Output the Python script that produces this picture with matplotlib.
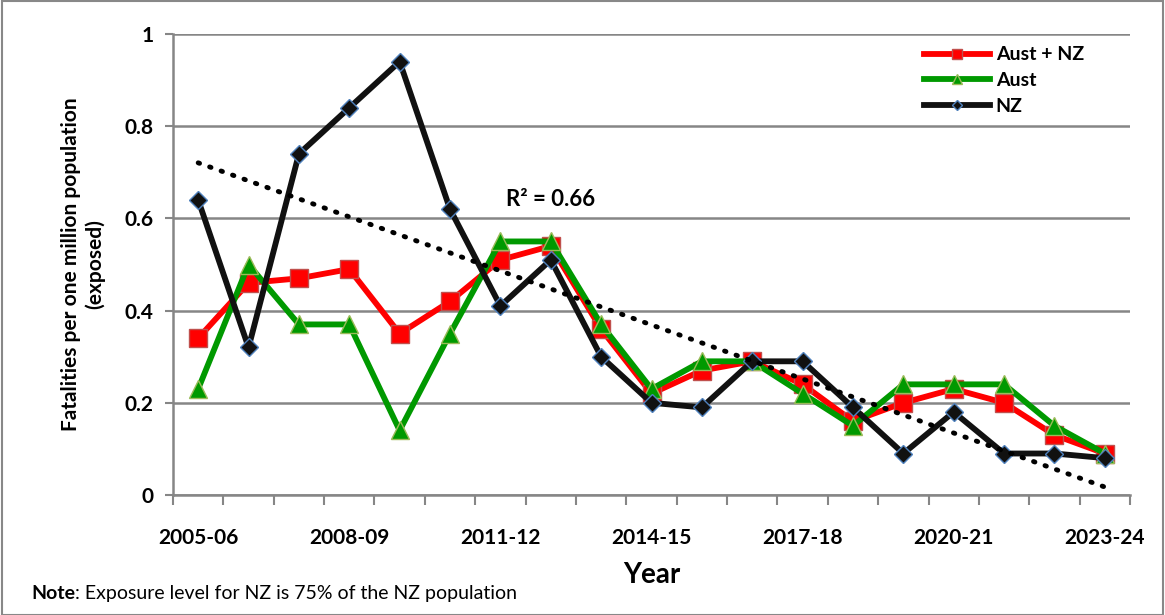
import matplotlib.pyplot as plt
import numpy as np
from matplotlib.patches import Rectangle

years = ['2005-06', '2006-07', '2007-08', '2008-09', '2009-10', '2010-11', '2011-12',
         '2012-13', '2013-14', '2014-15', '2015-16', '2016-17', '2017-18', '2018-19',
         '2019-20', '2020-21', '2021-22', '2022-23', '2023-24']
aust_nz = [0.34, 0.46, 0.47, 0.49, 0.35, 0.42, 0.51, 0.54, 0.36, 0.22, 0.27, 0.29,
           0.24, 0.16, 0.20, 0.23, 0.20, 0.13, 0.09]
aust = [0.23, 0.50, 0.37, 0.37, 0.14, 0.35, 0.55, 0.55, 0.37, 0.23, 0.29, 0.29,
        0.22, 0.15, 0.24, 0.24, 0.24, 0.15, 0.09]
nz = [0.64, 0.32, 0.74, 0.84, 0.94, 0.62, 0.41, 0.51, 0.30, 0.20, 0.19, 0.29,
      0.29, 0.19, 0.09, 0.18, 0.09, 0.09, 0.08]

plt.rcParams['font.family'] = ['Lato', 'DejaVu Sans']

fig = plt.figure(figsize=(11.65, 6.15), dpi=100)
ax = fig.add_axes([173 / 1165, 1 - 495 / 615, (1130 - 173) / 1165, (495 - 34) / 615])

x = np.arange(len(years))
ax.plot(x, aust_nz, '-s', color='#ff0000', lw=4.2, ms=13, mfc='#ff0000', mec='#c0504d',
        mew=1, label='Aust + NZ', zorder=3)
ax.plot(x, aust, '-^', color='#009900', lw=4.2, ms=13, mfc='#009900', mec='#9bbb59',
        mew=1, label='Aust', zorder=4)
ax.plot(x, nz, '-D', color='#111111', lw=4.2, ms=9, mfc='#111111', mec='#4f81bd',
        mew=1, label='NZ', zorder=5)

# linear trend line for NZ
k, b = np.polyfit(x, nz, 1)
ax.plot(x, k * x + b, color='black', lw=3.5, ls=(0, (0.3, 2.2)), dash_capstyle='round',
        zorder=6)
ax.text(7, 0.64, 'R² = 0.66', fontsize=16, fontweight='bold', ha='center', va='center')

ax.set_xlim(-0.5, len(years) - 0.5)
ax.set_ylim(0, 1)
ax.set_yticks(np.arange(0, 1.01, 0.2))
ax.set_yticklabels(['0', '0.2', '0.4', '0.6', '0.8', '1'], fontsize=15, fontweight='bold')
ax.set_xticks(x[::3])
ax.set_xticklabels(years[::3], fontsize=15, fontweight='bold')
ax.set_xticks(np.arange(-0.5, len(years)), minor=True)
ax.tick_params(axis='x', which='major', length=0, pad=24)
ax.tick_params(axis='x', which='minor', length=7, width=1.5, color='#868686')
ax.tick_params(axis='y', length=6, width=1.5, color='#868686', pad=8)

ax.grid(axis='y', color='#868686', lw=1.8)
ax.set_axisbelow(True)
for s in ['top', 'right']:
    ax.spines[s].set_visible(False)
for s in ['left', 'bottom']:
    ax.spines[s].set_color('#868686')
    ax.spines[s].set_linewidth(1.8)

ax.set_xlabel('Year', fontsize=20, fontweight='bold', labelpad=10)
ax.set_ylabel('Fatalities per one million population\n(exposed)', fontsize=15,
              fontweight='bold', labelpad=14)

leg = ax.legend(loc='upper right', bbox_to_anchor=(0.96, 0.99), frameon=True,
                fontsize=14, handlelength=3.4, labelspacing=0.45, borderaxespad=0,
                markerscale=0.6, handletextpad=0.3)
leg.get_frame().set_edgecolor('none')
for t in leg.get_texts():
    t.set_fontweight('bold')

note = fig.text(0.027, 0.026, 'Note', fontsize=14, fontweight='bold')
fig.canvas.draw()
bb = note.get_window_extent().transformed(fig.transFigure.inverted())
fig.text(bb.x1, 0.026, ': Exposure level for NZ is 75% of the NZ population', fontsize=14)

fig.patches.append(Rectangle((0.002, 0.0), 0.996, 0.998, transform=fig.transFigure,
                             fill=False, edgecolor='#888888', lw=1.5))

plt.savefig('out.png', dpi=100)
